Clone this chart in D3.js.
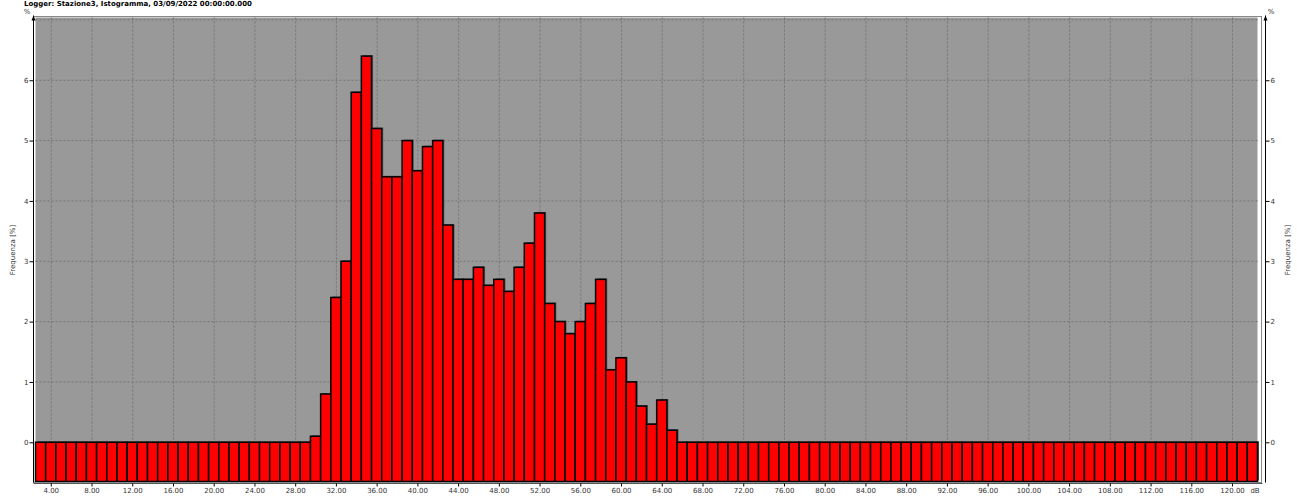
<!DOCTYPE html>
<html>
<head>
<meta charset="utf-8">
<script src="https://cdn.jsdelivr.net/npm/d3@7"></script>
<style>
body { margin: 0; background: #fff; }
text { font-family: "DejaVu Sans", sans-serif; }
</style>
</head>
<body>
<div id="chart"></div>
<script>
// histogram classes (dB), one per bar
var classes = [3,4,5,6,7,8,9,10,11,12,13,14,15,16,17,18,19,20,21,22,23,24,25,26,27,28,29,30,
    31,32,33,34,35,36,37,38,39,40,41,42,43,44,45,46,47,48,49,50,51,52,53,54,55,56,57,58,59,60,
    61,62,63,64,65,66,67,68,69,70,71,72,73,74,75,76,77,78,79,80,81,82,83,84,85,86,87,88,89,90,
    91,92,93,94,95,96,97,98,99,100,101,102,103,104,105,106,107,108,109,110,111,112,113,114,115,
    116,117,118,119,120,121,122];

// frequenza [%], same order as classes
var freq = [
    0,0,0,0,0,0,0,0,0,0,0,0,0,0,0,0,0,0,0,0,0,0,0,0,0,0,0,     // 3..29
    0.1,0.8,2.4,3.0,5.8,6.4,5.2,4.4,4.4,5.0,                    // 30..39
    4.5,4.9,5.0,3.6,2.7,2.7,2.9,2.6,2.7,2.5,                    // 40..49
    2.9,3.3,3.8,2.3,2.0,1.8,2.0,2.3,2.7,1.2,                    // 50..59
    1.4,1.0,0.6,0.3,0.7,0.2,                                    // 60..65
    0,0,0,0,0,0,0,0,0,0,0,0,0,0,0,0,0,0,0,0,0,0,0,0,0,0,0,0,0,  // 66..94
    0,0,0,0,0,0,0,0,0,0,0,0,0,0,0,0,0,0,0,0,0,0,0,0,0,0,0,0    // 95..122
];

var xTicks = [4,8,12,16,20,24,28,32,36,40,44,48,52,56,60,64,68,72,76,80,84,88,92,96,100,104,108,112,116,120];
var yTicks = [0,1,2,3,4,5,6];

var title = "Logger: Stazione3, Istogramma, 03/09/2022 00:00:00.000";

var width = 1297,
    height = 496;

var x = d3.scaleLinear().domain([2.5, 122.5]).range([35.5, 1257.5]);
var y = d3.scaleLinear().domain([-0.65, 7.04]).range([481.5, 17.5]);

var svg = d3.select("#chart")
    .append("svg")
    .attr("width", width)
    .attr("height", height);

svg.append("text")
    .attr("x", 24)
    .attr("y", 6)
    .attr("font-size", 7)
    .attr("font-weight", "bold")
    .attr("fill", "#000")
    .text(title);

// plot background
svg.append("rect")
    .attr("x", x(2.5))
    .attr("y", y(7.04))
    .attr("width", x(122.5) - x(2.5))
    .attr("height", y(-0.65) - y(7.04))
    .attr("fill", "#999999");

// grid
svg.append("g")
    .selectAll("line")
    .data(xTicks)
    .enter().append("line")
    .attr("x1", function (d) { return x(d) + 0.5; })
    .attr("x2", function (d) { return x(d) + 0.5; })
    .attr("y1", y(7.04))
    .attr("y2", y(-0.65))
    .attr("stroke", "#747474")
    .attr("stroke-dasharray", "2,2");

svg.append("g")
    .selectAll("line")
    .data(yTicks.concat([7]))
    .enter().append("line")
    .attr("x1", x(2.5))
    .attr("x2", x(122.5))
    .attr("y1", function (d) { return y(d); })
    .attr("y2", function (d) { return y(d); })
    .attr("stroke", "#747474")
    .attr("stroke-dasharray", "2,2");

// bars, drawn from plot bottom up to the value
var bars = svg.append("g")
    .selectAll("rect")
    .data(freq)
    .enter();

// faint shadow
bars.append("rect")
    .attr("x", function (d, i) { return x(classes[i] - 0.5) + 1.5; })
    .attr("y", function (d) { return y(d) - 1; })
    .attr("width", function (d, i) { return x(classes[i] + 0.5) - x(classes[i] - 0.5); })
    .attr("height", function (d) { return y(-0.65) - y(d); })
    .attr("fill", "#555");

bars.append("rect")
    .attr("x", function (d, i) { return x(classes[i] - 0.5); })
    .attr("y", function (d) { return y(d); })
    .attr("width", function (d, i) { return x(classes[i] + 0.5) - x(classes[i] - 0.5); })
    .attr("height", function (d) { return y(-0.65) - y(d); })
    .attr("fill", "#ff0000")
    .attr("stroke", "#000")
    .attr("stroke-width", 1.5);

// plot frame
svg.append("rect")
    .attr("x", x(2.5) - 2)
    .attr("y", y(7.04) - 1)
    .attr("width", x(122.5) - x(2.5) + 6)
    .attr("height", y(-0.65) - y(7.04) + 2)
    .attr("fill", "none")
    .attr("stroke", "#888")
    .attr("stroke-width", 1);

// left axis
var leftAxis = svg.append("g")
    .attr("transform", "translate(33.5,0)")
    .call(d3.axisLeft(y).tickValues(yTicks).tickSize(4).tickFormat(d3.format("d")));
leftAxis.select(".domain").attr("d", "M0," + (y(-0.65) + 1) + "V" + (y(7.04) - 2)).attr("stroke", "#000");
leftAxis.selectAll("text").attr("font-size", 7).attr("fill", "#333").attr("x", -5);

// right axis
var rightAxis = svg.append("g")
    .attr("transform", "translate(1265.5,0)")
    .call(d3.axisRight(y).tickValues(yTicks).tickSize(4).tickFormat(d3.format("d")));
rightAxis.select(".domain").attr("d", "M0," + (y(-0.65) + 1) + "V" + (y(7.04) - 2)).attr("stroke", "#000");
rightAxis.selectAll("text").attr("font-size", 7).attr("fill", "#333").attr("x", 5);

// axis arrows
[33.5, 1265.5].forEach(function (ax) {
    svg.append("path")
        .attr("d", "M" + (ax - 2) + "," + (y(7.04) + 3) + "L" + ax + "," + (y(7.04) - 2) + "L" + (ax + 2) + "," + (y(7.04) + 3) + "Z")
        .attr("fill", "#000");
});

// bottom axis
var bottomAxis = svg.append("g")
    .attr("transform", "translate(0," + (y(-0.65) + 2) + ")")
    .call(d3.axisBottom(x).tickValues(xTicks).tickSize(3).tickFormat(d3.format(".2f")));
bottomAxis.select(".domain").attr("d", "M" + (x(2.5) - 2) + ",0H" + (x(122.5) + 5)).attr("stroke", "#555");
bottomAxis.selectAll("text").attr("font-size", 7).attr("fill", "#333").attr("dy", "0.55em");

svg.append("text")
    .attr("x", 1255)
    .attr("y", 493)
    .attr("text-anchor", "middle")
    .attr("font-size", 7)
    .attr("fill", "#333")
    .text("dB");

// unit labels
svg.append("text").attr("x", 27).attr("y", 14).attr("text-anchor", "middle")
    .attr("font-size", 7).attr("fill", "#333").text("%");
svg.append("text").attr("x", 1271).attr("y", 14).attr("text-anchor", "middle")
    .attr("font-size", 7).attr("fill", "#333").text("%");

// axis titles
svg.append("text")
    .attr("transform", "translate(15,250) rotate(-90)")
    .attr("text-anchor", "middle")
    .attr("font-size", 7)
    .attr("fill", "#333")
    .text("Frequenza [%]");
svg.append("text")
    .attr("transform", "translate(1290,250) rotate(-90)")
    .attr("text-anchor", "middle")
    .attr("font-size", 7)
    .attr("fill", "#333")
    .text("Frequenza [%]");
</script>
</body>
</html>
